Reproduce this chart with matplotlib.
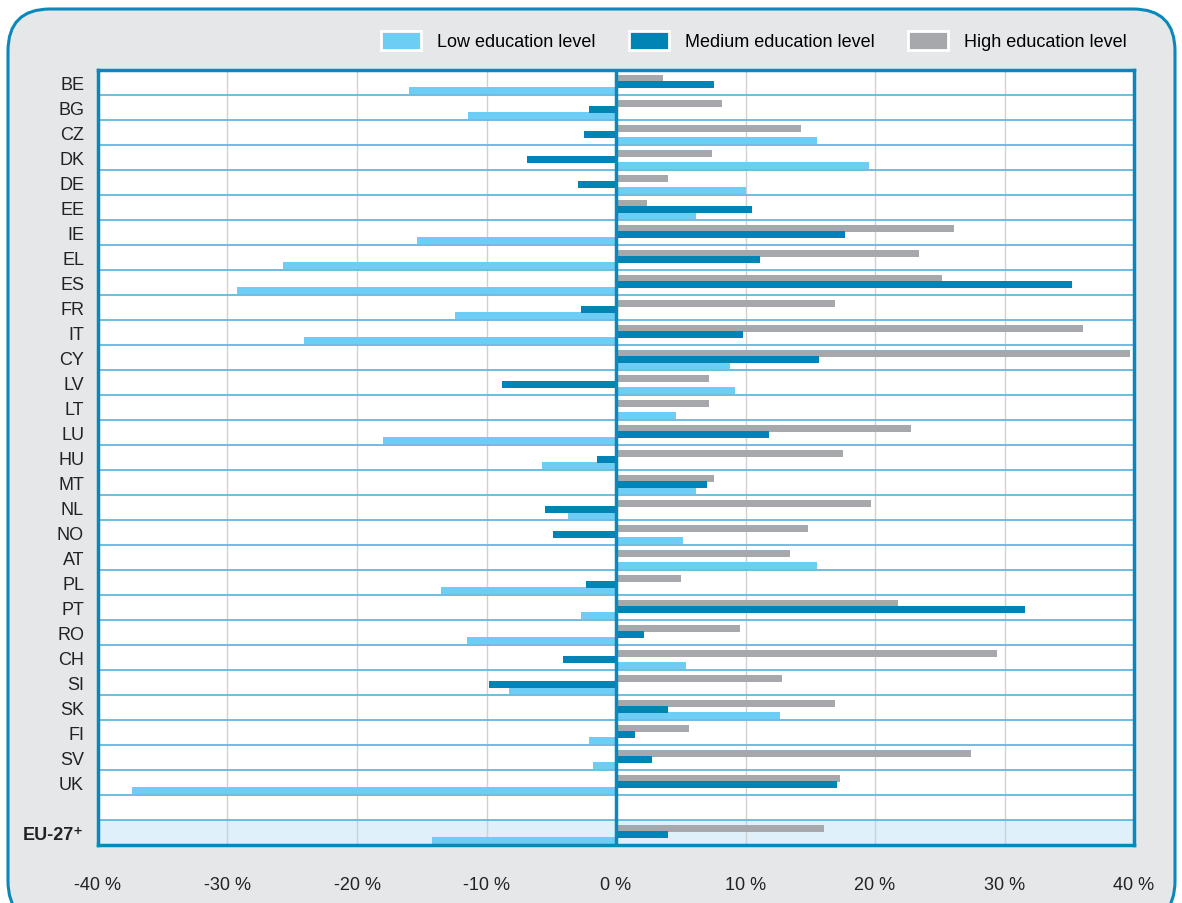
import matplotlib.pyplot as plt
import numpy as np
from matplotlib.patches import FancyBboxPatch, Patch
from matplotlib.transforms import IdentityTransform

plt.rcParams['font.family'] = ['Liberation Sans Narrow', 'Liberation Sans', 'DejaVu Sans']

# data (change in %)
countries = ["BE", "BG", "CZ", "DK", "DE", "EE", "IE", "EL", "ES", "FR",
             "IT", "CY", "LV", "LT", "LU", "HU", "MT", "NL", "NO", "AT",
             "PL", "PT", "RO", "CH", "SI", "SK", "FI", "SV", "UK"]
low = [-16.0, -11.4, 15.5, 19.5, 10.0, 6.2, -15.4, -25.7, -29.3, -12.4,
       -24.1, 8.8, 9.2, 4.6, -18.0, -5.7, 6.2, -3.7, 5.2, 15.5,
       -13.5, -2.7, -11.5, 5.4, -8.3, 12.7, -2.1, -1.8, -37.4]
medium = [7.6, -2.1, -2.5, -6.9, -2.9, 10.5, 17.7, 11.1, 35.2, -2.7,
          9.8, 15.7, -8.8, 0.0, 11.8, -1.5, 7.0, -5.5, -4.9, 0.0,
          -2.3, 31.6, 2.2, -4.1, -9.8, 4.0, 1.5, 2.8, 17.1]
high = [3.6, 8.2, 14.3, 7.4, 4.0, 2.4, 26.1, 23.4, 25.2, 16.9,
        36.1, 39.7, 7.2, 7.2, 22.8, 17.5, 7.6, 19.7, 14.8, 13.4,
        5.0, 21.8, 9.6, 29.4, 12.8, 16.9, 5.6, 27.4, 17.3]
eu_label = "EU-27⁺"
eu_low, eu_medium, eu_high = -14.2, 4.0, 16.1
series_names = ["Low education level", "Medium education level", "High education level"]
xticks = [-40, -30, -20, -10, 0, 10, 20, 30, 40]

c_low = "#6dcdf4"
c_med = "#0083b5"
c_high = "#a7a8ab"
c_blue = "#0a87bb"

fig = plt.figure(figsize=(11.82, 9.04), dpi=100)
fig.patch.set_facecolor("white")

# rounded grey panel behind everything
panel = FancyBboxPatch((8, -20), 1167, 894 + 20, boxstyle="round,pad=0,rounding_size=42",
                       transform=IdentityTransform(), facecolor="#e6e7e9",
                       edgecolor=c_blue, linewidth=2.2, zorder=-5)
fig.patches.append(panel)

ax = fig.add_axes([98 / 1182, 1 - 846 / 904, (1134 - 98) / 1182, (846 - 71) / 904])
ax.set_zorder(2)
ax.set_facecolor("white")

# rows: countries, an empty spacer row, then EU-27
rows_y = np.arange(len(countries))
eu_y = len(countries) + 1
all_low = low + [eu_low]
all_med = medium + [eu_medium]
all_high = high + [eu_high]
ypos = np.append(rows_y, eu_y)

ax.axhspan(eu_y - 0.5, eu_y + 0.5, color="#dff0fa", zorder=0)

for v in [-30, -20, -10, 10, 20, 30]:
    ax.axvline(v, color="#cfd0d2", lw=1.0, zorder=1)
for k in range(len(countries) + 1):
    ax.axhline(k + 0.5, color="#62b8df", lw=1.3, zorder=1)

h = 0.28
ax.barh(ypos - 0.18, all_high, height=h, color=c_high, zorder=2)
ax.barh(ypos + 0.06, all_med, height=h, color=c_med, zorder=3)
ax.barh(ypos + 0.30, all_low, height=h, color=c_low, zorder=2)

ax.axvline(0, color=c_blue, lw=2.5, zorder=4)

ax.set_xlim(-40, 40)
ax.set_ylim(eu_y + 0.5, -0.5)
ax.set_xticks(xticks)
ax.set_xticklabels([f"{t} %" for t in xticks], fontsize=13, color="#222222")
ax.set_yticks(list(rows_y) + [eu_y])
ax.set_yticklabels(countries + [eu_label], fontsize=13, color="#222222")
ax.get_yticklabels()[-1].set_fontweight("bold")
ax.tick_params(axis="x", length=0, pad=22)
ax.tick_params(axis="y", length=0, pad=10)
for s in ax.spines.values():
    s.set_color(c_blue)
    s.set_linewidth(2.5)

handles = [Patch(facecolor=c, edgecolor="white", linewidth=2) for c in [c_low, c_med, c_high]]
fig.legend(handles, series_names, loc="center right", bbox_to_anchor=(0.961, 0.954),
           ncol=3, frameon=False, fontsize=13, handlelength=2.2, handleheight=1.25,
           handletextpad=0.9, columnspacing=1.85, borderpad=0)

fig.savefig("out.png", dpi=100, facecolor=fig.get_facecolor())
